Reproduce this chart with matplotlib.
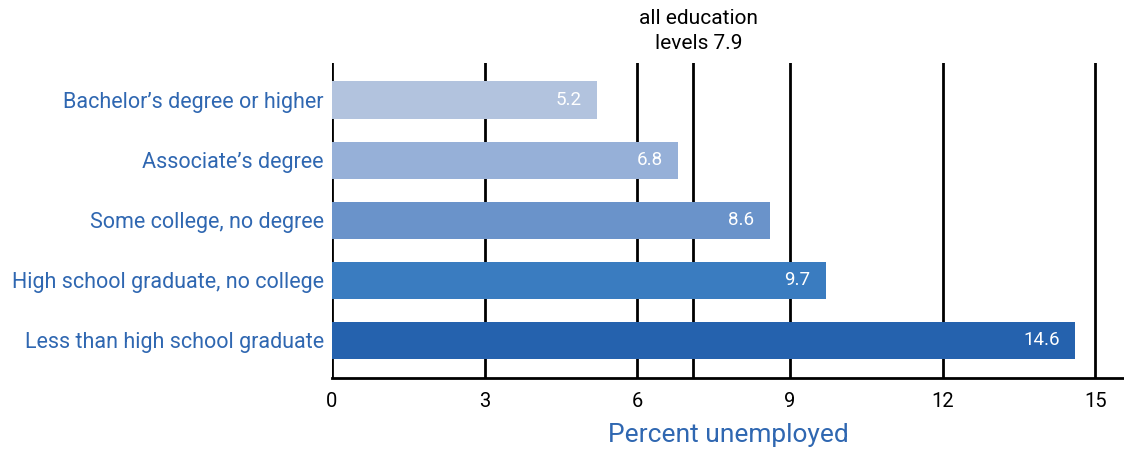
import numpy as np
from matplotlib import pyplot as plt

plt.rcParams['font.family'] = ['Roboto', 'DejaVu Sans']

LABEL_BLUE = "#2f67b1"

categories = ["Bachelor\u2019s degree or higher", "Associate\u2019s degree",
              "Some college, no degree", "High school graduate, no college",
              "Less than high school graduate"]
rates = [5.2, 6.8, 8.6, 9.7, 14.6]
bar_colors = ["#b2c3de", "#96b0d8", "#6a93ca", "#3a7cc0", "#2562ae"]
x_ticks = [0, 3, 6, 9, 12, 15]

overall_label = "all education\nlevels 7.9"
overall_line = 7.1  # where the reference line is drawn


fig = plt.figure(figsize=(11.24, 4.49), dpi=100)
ax = fig.add_axes([0.2954, 0.158, 0.7046, 0.702])

ypos = np.arange(len(categories))

for x in x_ticks:
    ax.axvline(x, color="black", lw=2, zorder=1)
ax.axvline(overall_line, color="black", lw=2, zorder=1)

ax.barh(ypos, rates, height=0.62, color=bar_colors, zorder=2)

for y, v in zip(ypos, rates):
    ax.text(v - 0.3, y, f"{v}", color="white", fontsize=13.5,
            ha="right", va="center", zorder=3)

ax.text(overall_line + 0.1, 1.03, overall_label, transform=ax.get_xaxis_transform(),
        ha="center", va="bottom", fontsize=15, linespacing=1.45)

ax.set_xlim(0, 15.56)
ax.set_ylim(4.63, -0.62)
ax.set_yticks(ypos)
ax.set_yticklabels(categories, color=LABEL_BLUE, fontsize=15.5)
ax.set_xticks(x_ticks)
ax.set_xticklabels([str(t) for t in x_ticks], fontsize=14.5)
ax.tick_params(length=0, pad=6)
ax.tick_params(axis="x", pad=10)

for s in ["top", "right", "left"]:
    ax.spines[s].set_visible(False)
ax.spines["bottom"].set_linewidth(2)

ax.set_xlabel("Percent unemployed", color=LABEL_BLUE, fontsize=19, labelpad=9)

plt.savefig("out.png", dpi=100)
